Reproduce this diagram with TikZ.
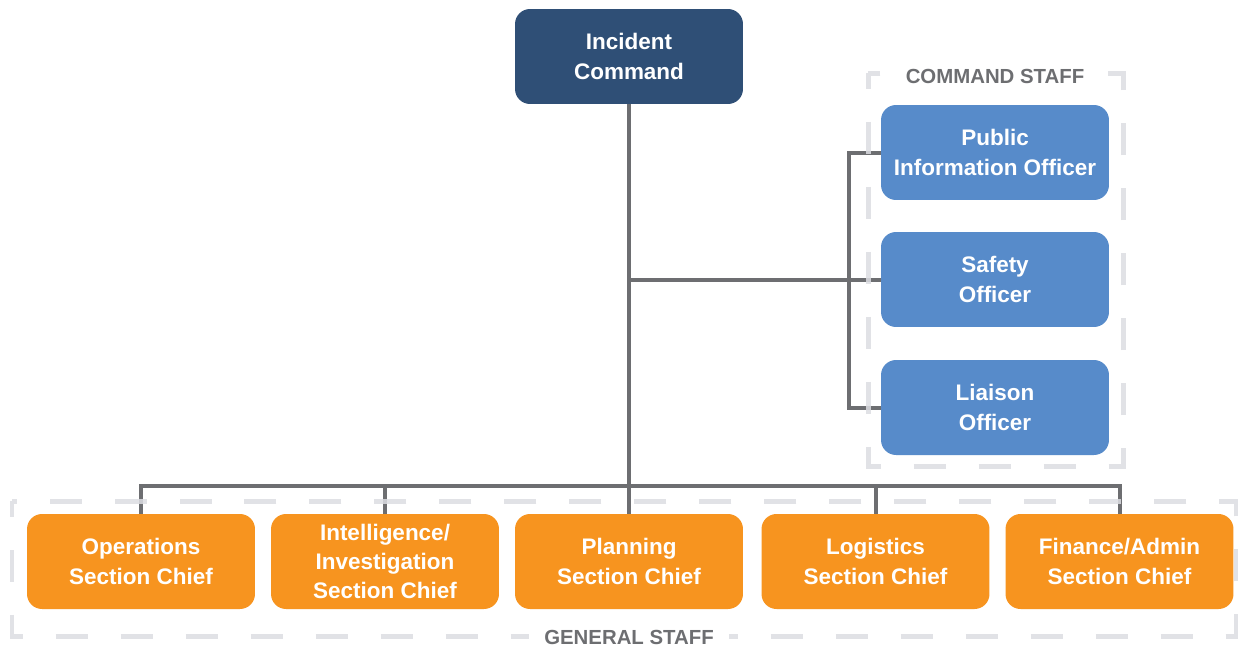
\documentclass[tikz,border=0pt]{standalone}
\usepackage{fontspec}
\setmainfont{Liberation Sans}
\definecolor{navy}{HTML}{2F4F76}
\definecolor{cmdblue}{HTML}{578BCA}
\definecolor{orng}{HTML}{F7941F}
\definecolor{linegray}{HTML}{6D6E71}
\definecolor{dashgray}{HTML}{DCDDE2}
\begin{document}
\begin{tikzpicture}[x=0.02cm,y=-0.02cm,
  box/.style={rounded corners=0.3cm, minimum width=4.56cm, minimum height=1.9cm,
    align=center, text=white, inner sep=0pt,
    font=\bfseries\fontsize{12.8}{16.6}\selectfont},
  icbox/.style={box, fill=navy},
  csbox/.style={box, fill=cmdblue},
  gsbox/.style={box, fill=orng},
  conn/.style={draw=linegray, line width=0.08cm},
  group/.style={draw=dashgray, line width=0.1cm, dash pattern=on 0.64cm off 0.66cm, dash phase=0.32cm, opacity=0.85},
  grouplabel/.style={fill=white, text=linegray, inner xsep=0.3cm, inner ysep=2pt,
    font=\bfseries\fontsize{11.6}{13}\selectfont}]
\useasboundingbox (0,0) rectangle (1238,650);
\fill[white] (0,0) rectangle (1238,650);

% nodes
\node[icbox] (ic) at (629,56.5) {Incident\\Command};
\node[csbox] (pio) at (995,152.5) {Public\\Information Officer};
\node[csbox] (saf) at (995,279.5) {Safety\\Officer};
\node[csbox] (lia) at (995,407.5) {Liaison\\Officer};
\node[gsbox] (ops) at (141,561.5) {Operations\\Section Chief};
\node[gsbox] (intel) at (385,561.5) {Intelligence/\\Investigation\\Section Chief};
\node[gsbox] (plan) at (629,561.5) {Planning\\Section Chief};
\node[gsbox] (log) at (875.5,561.5) {Logistics\\Section Chief};
\node[gsbox] (fin) at (1119.5,561.5) {Finance/Admin\\Section Chief};

\coordinate (bus) at (629,486);

% connectors
\draw[conn] (ic.south) -- (plan.north);
\draw[conn] (ops.north) |- (bus) -| (fin.north);
\draw[conn] (intel.north) -- (intel.north |- bus);
\draw[conn] (log.north) -- (log.north |- bus);
\draw[conn] (ic.south |- saf.west) -- (saf.west);
\draw[conn] (pio.west) -- ++(-32,0) |- (lia.west);

% groups
\draw[group] (868,73) rectangle (1123,466);
\draw[group] (12,501) rectangle (1236,636);
\node[grouplabel] (cslabel) at (995,76) {COMMAND STAFF};
\node[grouplabel] (gslabel) at (629,637) {GENERAL STAFF};
\end{tikzpicture}
\end{document}
